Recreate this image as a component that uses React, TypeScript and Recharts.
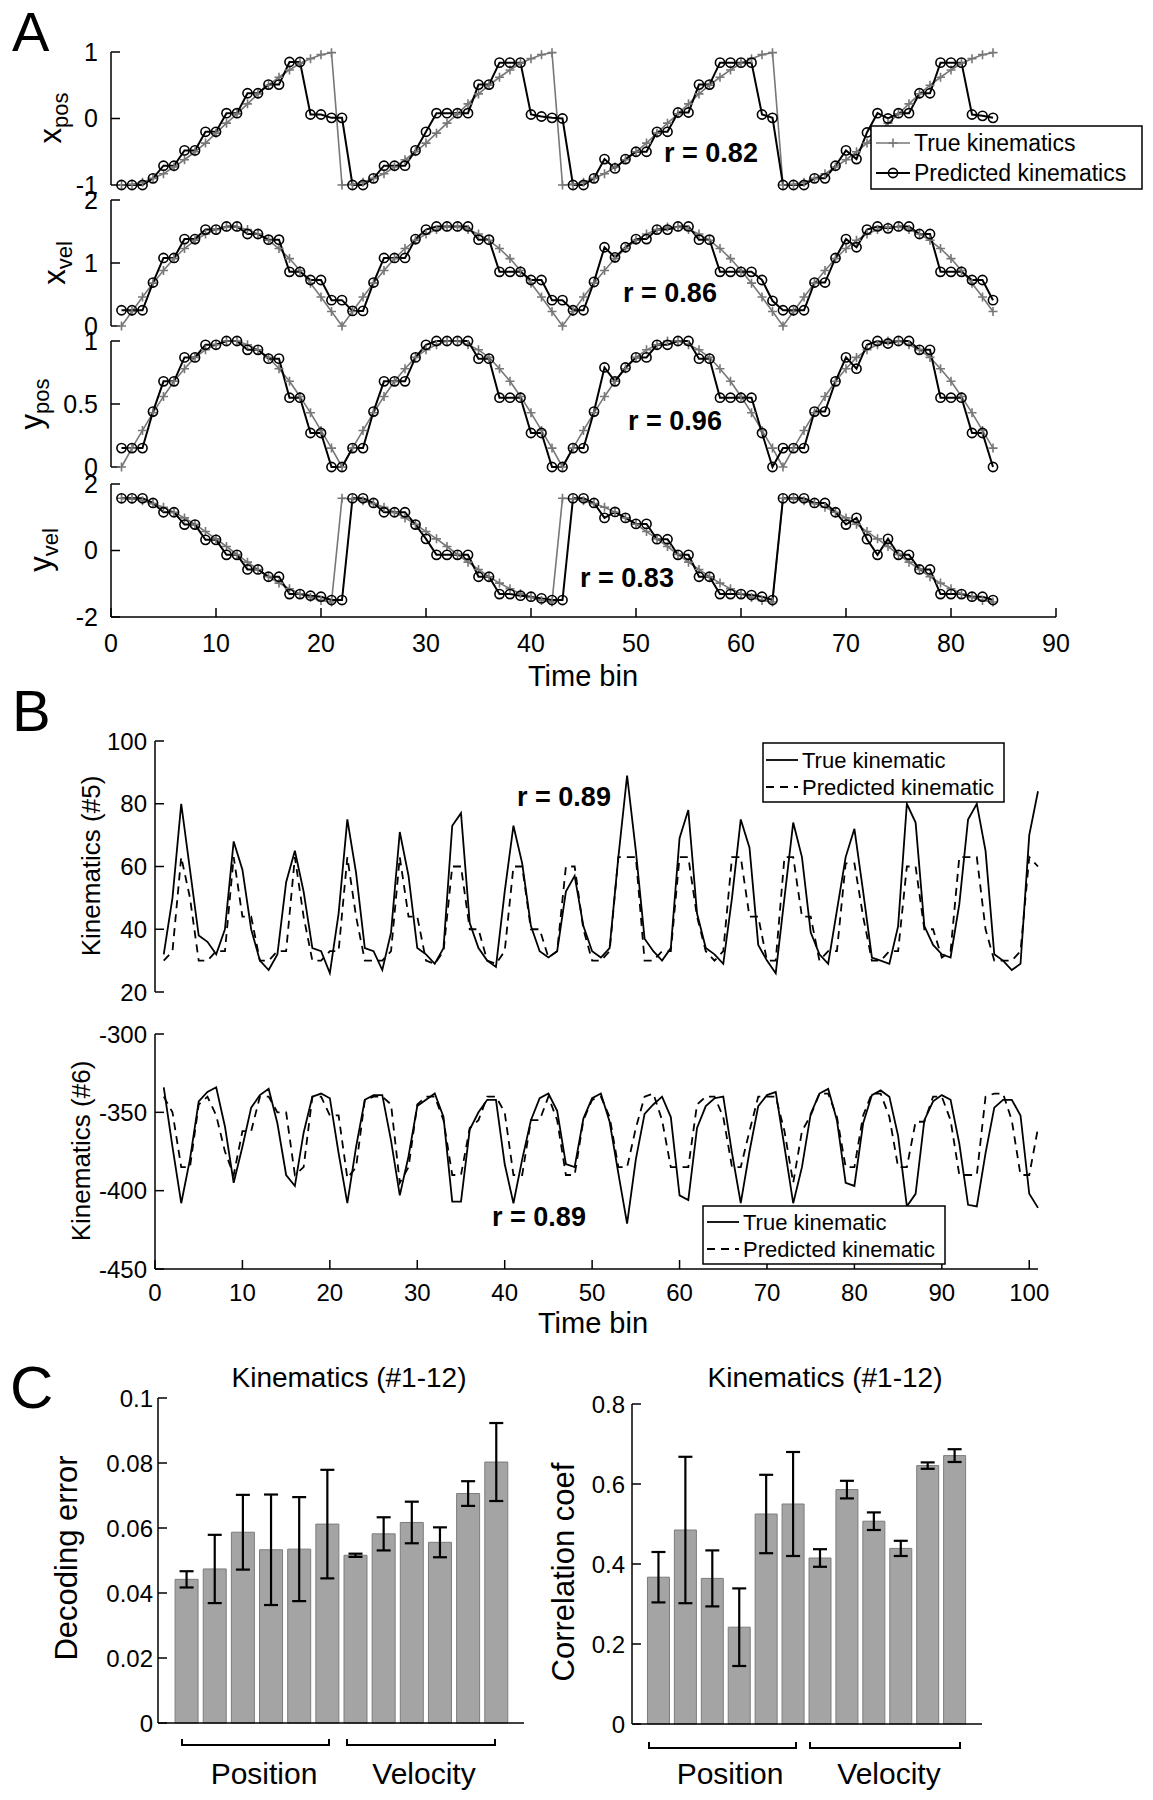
import React from "react";
import { LineChart, Line, XAxis, YAxis, BarChart, Bar, ErrorBar } from "recharts";

const FONT = '"Liberation Sans", Arial, Helvetica, sans-serif';

// ---------- Panel A: 84 time bins (4 reaches of 21 bins)
const A_X_TICKS = [0, 10, 20, 30, 40, 50, 60, 70, 80, 90];

const A_XPOS_TRUE = [
  -1, -0.99, -0.96, -0.9, -0.83, -0.73, -0.62, -0.5, -0.37, -0.22, -0.07, 0.07, 0.22, 0.37, 0.5, 0.62, 0.73, 0.83, 0.9, 0.96, 0.99,
  -1, -0.99, -0.96, -0.9, -0.83, -0.73, -0.62, -0.5, -0.37, -0.22, -0.07, 0.07, 0.22, 0.37, 0.5, 0.62, 0.73, 0.83, 0.9, 0.96, 0.99,
  -1, -0.99, -0.96, -0.9, -0.83, -0.73, -0.62, -0.5, -0.37, -0.22, -0.07, 0.07, 0.22, 0.37, 0.5, 0.62, 0.73, 0.83, 0.9, 0.96, 0.99,
  -1, -0.99, -0.96, -0.9, -0.83, -0.73, -0.62, -0.5, -0.37, -0.22, -0.07, 0.07, 0.22, 0.37, 0.5, 0.62, 0.73, 0.83, 0.9, 0.96, 0.99,
];
const A_XPOS_PRED = [
  -1, -1, -1, -0.9, -0.71, -0.71, -0.48, -0.48, -0.2, -0.2, 0.08, 0.08, 0.38, 0.38, 0.51, 0.51, 0.85, 0.85, 0.06, 0.06, 0.01, 0.01,
  -1, -1, -0.9, -0.71, -0.71, -0.71, -0.48, -0.2, 0.08, 0.08, 0.08, 0.08, 0.51, 0.51, 0.84, 0.84, 0.84, 0.06, 0.03, 0.01, 0,
  -1, -1, -0.9, -0.61, -0.75, -0.61, -0.5, -0.5, -0.2, -0.2, 0.09, 0.09, 0.51, 0.51, 0.84, 0.84, 0.84, 0.84, 0.06, 0.01,
  -1, -1, -1, -0.9, -0.9, -0.71, -0.48, -0.61, -0.21, 0.08, 0, 0.08, 0.08, 0.38, 0.38, 0.84, 0.84, 0.84, 0.06, 0.04, 0.01,
];

const A_XVEL_TRUE = [
  0, 0.23, 0.46, 0.68, 0.88, 1.07, 1.23, 1.36, 1.46, 1.53, 1.57, 1.57, 1.53, 1.46, 1.36, 1.23, 1.07, 0.88, 0.68, 0.46, 0.23,
  0, 0.23, 0.46, 0.68, 0.88, 1.07, 1.23, 1.36, 1.46, 1.53, 1.57, 1.57, 1.53, 1.46, 1.36, 1.23, 1.07, 0.88, 0.68, 0.46, 0.23,
  0, 0.23, 0.46, 0.68, 0.88, 1.07, 1.23, 1.36, 1.46, 1.53, 1.57, 1.57, 1.53, 1.46, 1.36, 1.23, 1.07, 0.88, 0.68, 0.46, 0.23,
  0, 0.23, 0.46, 0.68, 0.88, 1.07, 1.23, 1.36, 1.46, 1.53, 1.57, 1.57, 1.53, 1.46, 1.36, 1.23, 1.07, 0.88, 0.68, 0.46, 0.23,
];
const A_XVEL_PRED = [
  0.25, 0.25, 0.25, 0.69, 1.08, 1.08, 1.38, 1.38, 1.53, 1.53, 1.58, 1.58, 1.46, 1.46, 1.37, 1.37, 0.86, 0.86, 0.73, 0.73, 0.41, 0.41,
  0.24, 0.24, 0.69, 1.08, 1.08, 1.08, 1.38, 1.53, 1.58, 1.58, 1.58, 1.58, 1.37, 1.37, 0.86, 0.86, 0.86, 0.73, 0.73, 0.41, 0.41,
  0.25, 0.25, 0.7, 1.25, 1.09, 1.25, 1.38, 1.38, 1.53, 1.53, 1.58, 1.58, 1.37, 1.37, 0.86, 0.86, 0.86, 0.86, 0.73, 0.4,
  0.25, 0.25, 0.25, 0.69, 0.69, 1.08, 1.38, 1.25, 1.53, 1.58, 1.55, 1.58, 1.58, 1.46, 1.46, 0.86, 0.86, 0.86, 0.73, 0.73, 0.41,
];

const A_YPOS_TRUE = [
  0, 0.15, 0.29, 0.43, 0.56, 0.68, 0.78, 0.87, 0.93, 0.97, 1, 1, 0.97, 0.93, 0.87, 0.78, 0.68, 0.56, 0.43, 0.29, 0.15,
  0, 0.15, 0.29, 0.43, 0.56, 0.68, 0.78, 0.87, 0.93, 0.97, 1, 1, 0.97, 0.93, 0.87, 0.78, 0.68, 0.56, 0.43, 0.29, 0.15,
  0, 0.15, 0.29, 0.43, 0.56, 0.68, 0.78, 0.87, 0.93, 0.97, 1, 1, 0.97, 0.93, 0.87, 0.78, 0.68, 0.56, 0.43, 0.29, 0.15,
  0, 0.15, 0.29, 0.43, 0.56, 0.68, 0.78, 0.87, 0.93, 0.97, 1, 1, 0.97, 0.93, 0.87, 0.78, 0.68, 0.56, 0.43, 0.29, 0.15,
];
const A_YPOS_PRED = [
  0.15, 0.15, 0.15, 0.44, 0.68, 0.68, 0.87, 0.87, 0.97, 0.97, 1, 1, 0.93, 0.93, 0.86, 0.86, 0.55, 0.55, 0.27, 0.27, 0, 0,
  0.15, 0.15, 0.44, 0.68, 0.68, 0.68, 0.87, 0.97, 1, 1, 1, 1, 0.86, 0.86, 0.55, 0.55, 0.55, 0.27, 0.27, 0, 0,
  0.15, 0.15, 0.44, 0.79, 0.68, 0.79, 0.87, 0.87, 0.97, 0.97, 1, 1, 0.86, 0.86, 0.55, 0.55, 0.55, 0.55, 0.27, 0,
  0.15, 0.15, 0.15, 0.44, 0.44, 0.68, 0.87, 0.78, 0.97, 1, 0.98, 1, 1, 0.93, 0.93, 0.55, 0.55, 0.55, 0.27, 0.27, 0,
];

const A_YVEL_TRUE = [
  1.57, 1.55, 1.5, 1.41, 1.3, 1.15, 0.98, 0.79, 0.57, 0.35, 0.12, -0.12, -0.35, -0.57, -0.79, -0.98, -1.15, -1.3, -1.41, -1.5, -1.55,
  1.57, 1.55, 1.5, 1.41, 1.3, 1.15, 0.98, 0.79, 0.57, 0.35, 0.12, -0.12, -0.35, -0.57, -0.79, -0.98, -1.15, -1.3, -1.41, -1.5, -1.55,
  1.57, 1.55, 1.5, 1.41, 1.3, 1.15, 0.98, 0.79, 0.57, 0.35, 0.12, -0.12, -0.35, -0.57, -0.79, -0.98, -1.15, -1.3, -1.41, -1.5, -1.55,
  1.57, 1.55, 1.5, 1.41, 1.3, 1.15, 0.98, 0.79, 0.57, 0.35, 0.12, -0.12, -0.35, -0.57, -0.79, -0.98, -1.15, -1.3, -1.41, -1.5, -1.55,
];
const A_YVEL_PRED = [
  1.57, 1.57, 1.57, 1.43, 1.15, 1.15, 0.78, 0.78, 0.32, 0.32, -0.13, -0.13, -0.57, -0.57, -0.79, -0.79, -1.31, -1.31, -1.36, -1.39, -1.49, -1.49,
  1.57, 1.57, 1.43, 1.15, 1.15, 1.15, 0.78, 0.35, -0.13, -0.13, -0.13, -0.13, -0.79, -0.79, -1.31, -1.31, -1.36, -1.39, -1.44, -1.49, -1.49,
  1.57, 1.57, 1.43, 0.98, 1.16, 0.98, 0.8, 0.8, 0.34, 0.34, -0.13, -0.13, -0.79, -0.79, -1.31, -1.31, -1.31, -1.34, -1.39, -1.49,
  1.57, 1.57, 1.57, 1.43, 1.43, 1.15, 0.78, 0.98, 0.34, -0.13, 0.35, -0.13, -0.13, -0.57, -0.57, -1.31, -1.31, -1.31, -1.39, -1.39, -1.49,
];

// ---------- Panel B: 101 time bins
const B_X_TICKS = [0, 10, 20, 30, 40, 50, 60, 70, 80, 90, 100];

const B5_TRUE = [
  32, 50, 80, 59, 38, 36, 32, 40, 68, 59,
  40, 30, 27, 32, 55, 65, 52, 34, 33, 26,
  45, 75, 58, 34, 33, 27, 39, 71, 57, 34,
  32, 29, 34, 73, 77, 42, 34, 30, 28, 52,
  73, 61, 41, 33, 31, 33, 52, 57, 41, 33,
  31, 34, 63, 89, 65, 37, 33, 30, 34, 69,
  78, 45, 34, 32, 29, 50, 75, 66, 35, 30,
  26, 50, 74, 63, 39, 32, 29, 46, 63, 72,
  52, 31, 30, 29, 41, 80, 74, 41, 35, 32,
  31, 48, 75, 80, 65, 32, 30, 27, 29, 70, 84,
];
const B5_PRED = [
  30, 33, 63, 50, 30, 30, 33, 33, 63, 44,
  44, 30, 30, 33, 33, 63, 44, 30, 30, 33,
  33, 63, 44, 30, 30, 30, 33, 63, 44, 44,
  30, 29, 33, 60, 60, 40, 40, 30, 29, 33,
  60, 60, 40, 40, 31, 33, 60, 60, 40, 30,
  30, 33, 63, 63, 63, 30, 30, 33, 33, 63,
  63, 44, 33, 30, 33, 63, 63, 44, 44, 30,
  30, 63, 63, 44, 44, 30, 33, 33, 61, 61,
  44, 30, 30, 33, 33, 60, 60, 40, 40, 31,
  33, 63, 63, 63, 40, 30, 30, 30, 33, 63, 60,
];

const B6_TRUE = [
  -334, -372, -408, -380, -343, -337, -334, -359, -395, -372,
  -347, -339, -335, -357, -390, -397, -363, -340, -338, -341,
  -376, -408, -372, -342, -339, -339, -368, -403, -378, -346,
  -342, -338, -353, -407, -407, -361, -350, -342, -342, -383,
  -408, -380, -355, -341, -338, -349, -383, -385, -354, -341,
  -338, -356, -389, -421, -380, -351, -345, -340, -353, -403,
  -406, -360, -346, -341, -340, -376, -408, -375, -346, -339,
  -337, -372, -408, -385, -351, -338, -335, -355, -395, -397,
  -357, -339, -336, -340, -365, -410, -402, -355, -343, -339,
  -342, -370, -409, -410, -376, -347, -342, -342, -352, -402, -411,
];
const B6_PRED = [
  -340, -350, -385, -385, -345, -340, -352, -375, -390, -362,
  -362, -340, -340, -350, -350, -390, -385, -340, -340, -352,
  -352, -392, -385, -342, -340, -340, -345, -395, -385, -345,
  -340, -340, -355, -390, -390, -360, -355, -340, -340, -350,
  -390, -390, -355, -355, -340, -355, -390, -390, -355, -342,
  -340, -353, -385, -385, -360, -340, -338, -355, -385, -385,
  -385, -345, -340, -340, -353, -385, -385, -362, -340, -340,
  -340, -362, -395, -362, -352, -338, -338, -353, -385, -385,
  -352, -338, -338, -353, -385, -385, -356, -356, -340, -340,
  -355, -390, -390, -390, -340, -338, -338, -355, -390, -390, -360,
];

// ---------- Panel C: 12 kinematic variables
const C_DEC_ERR = [0.0442, 0.0474, 0.0587, 0.0533, 0.0535, 0.0612, 0.0516, 0.0582, 0.0617, 0.0556, 0.0706, 0.0803];
const C_DEC_SEM = [0.0025, 0.0105, 0.0115, 0.017, 0.016, 0.0167, 0.0005, 0.0051, 0.0064, 0.0046, 0.0038, 0.012];
const C_CORR = [0.367, 0.485, 0.364, 0.242, 0.525, 0.55, 0.415, 0.586, 0.507, 0.439, 0.646, 0.671];
const C_CORR_SEM = [0.063, 0.183, 0.07, 0.097, 0.098, 0.13, 0.022, 0.022, 0.022, 0.019, 0.008, 0.016];
const C_DEC_TICKS = [0, 0.02, 0.04, 0.06, 0.08, 0.1];
const C_CORR_TICKS = [0, 0.2, 0.4, 0.6, 0.8];

const toRows = (t: number[], p: number[]) => t.map((v, i) => ({ x: i + 1, t: v, p: p[i] }));
const toBars = (v: number[], e: number[]) => v.map((val, i) => ({ i: i + 1, v: val, e: e[i] }));

const YW = 90;
const MT = 20; // room above the frame for the top tick label
const MR = 30; // room right of the frame for the last tick label
const MB = 20;
const AXIS = { stroke: "#000", strokeWidth: 1.5 };
const blank = () => "";
const tickFont = (size: number) => ({ fill: "#000", fontSize: size, fontFamily: FONT });

function PlusDot(props: any) {
  const { cx, cy } = props;
  if (cx == null || cy == null) return <g />;
  return <path d={`M${cx - 4.5},${cy}H${cx + 4.5}M${cx},${cy - 4.5}V${cy + 4.5}`} stroke="#777" strokeWidth={1.6} />;
}

function CircleDot(props: any) {
  const { cx, cy } = props;
  if (cx == null || cy == null) return <g />;
  return <circle cx={cx} cy={cy} r={4.6} fill="none" stroke="#000" strokeWidth={1.6} />;
}

type PanelProps = {
  rows: any[];
  left: number;
  top: number;
  w: number;
  h: number;
  xDomain: [number, number];
  xTicks: number[];
  yDomain: [number, number];
  yTicks: number[];
  xLabels?: boolean;
  xTickMargin?: number;
  yTickMargin: number;
  fontSize?: number;
  children: React.ReactNode;
};

function LinePanel(p: PanelProps) {
  const xh = p.xLabels ? 50 : 0;
  const tf = tickFont(p.fontSize ?? 25);
  return (
    <div style={{ position: "absolute", left: p.left - YW, top: p.top - MT }}>
      <LineChart width={YW + p.w + MR} height={MT + p.h + xh + MB} data={p.rows} margin={{ top: MT, right: MR, bottom: MB, left: 0 }}>
        <XAxis dataKey="x" type="number" domain={p.xDomain} ticks={p.xTicks} interval={0} height={xh}
          tickSize={-9} tickMargin={p.xTickMargin ?? 26} axisLine={AXIS} tickLine={AXIS} tick={tf}
          tickFormatter={p.xLabels ? undefined : blank} />
        <XAxis xAxisId="top" orientation="top" dataKey="x" type="number" domain={p.xDomain} ticks={p.xTicks} interval={0}
          height={0} tickSize={-9} axisLine={AXIS} tickLine={AXIS} tick={tf} tickFormatter={blank} />
        <YAxis type="number" domain={p.yDomain} ticks={p.yTicks} interval={0} width={YW} tickSize={-9}
          tickMargin={p.yTickMargin} axisLine={AXIS} tickLine={AXIS} tick={tf} />
        <YAxis yAxisId="right" orientation="right" type="number" domain={p.yDomain} ticks={p.yTicks} interval={0} width={0}
          tickSize={-9} axisLine={AXIS} tickLine={AXIS} tick={tf} tickFormatter={blank} />
        {p.children}
      </LineChart>
    </div>
  );
}

function trueLineA() {
  return <Line key="t" dataKey="t" stroke="#777" strokeWidth={1.6} dot={<PlusDot />} activeDot={false} isAnimationActive={false} />;
}
function predLineA() {
  return <Line key="p" dataKey="p" stroke="#000" strokeWidth={2} dot={<CircleDot />} activeDot={false} isAnimationActive={false} />;
}
function trueLineB() {
  return <Line key="t" dataKey="t" stroke="#000" strokeWidth={1.8} dot={false} activeDot={false} isAnimationActive={false} />;
}
function predLineB() {
  return <Line key="p" dataKey="p" stroke="#000" strokeWidth={1.8} strokeDasharray="8 6" dot={false} activeDot={false} isAnimationActive={false} />;
}

type BarProps = {
  rows: any[]; left: number; top: number; w: number; h: number;
  yDomain: [number, number]; yTicks: number[]; barSize: number; tickMargin: number;
};

function BarPanel(p: BarProps) {
  const tf = tickFont(24);
  return (
    <div style={{ position: "absolute", left: p.left - YW, top: p.top - MT }}>
      <BarChart width={YW + p.w + MR} height={MT + p.h + 2 + MB} data={p.rows} margin={{ top: MT, right: MR, bottom: MB, left: 0 }}>
        <XAxis dataKey="i" type="number" domain={[0, 13]} height={2} axisLine={AXIS} tickLine={false} tick={false} />
        <XAxis xAxisId="top" orientation="top" dataKey="i" type="number" domain={[0, 13]} height={0} axisLine={AXIS} tickLine={false} tick={false} />
        <YAxis type="number" domain={p.yDomain} ticks={p.yTicks} interval={0} width={YW} tickSize={-9} tickMargin={p.tickMargin}
          axisLine={AXIS} tickLine={AXIS} tick={tf} />
        <YAxis yAxisId="right" orientation="right" type="number" domain={p.yDomain} ticks={p.yTicks} interval={0} width={0}
          tickSize={-9} axisLine={AXIS} tickLine={AXIS} tick={tf} tickFormatter={blank} />
        <Bar dataKey="v" barSize={p.barSize} fill="#a4a4a4" stroke="#7c7c7c" strokeWidth={1} isAnimationActive={false}>
          <ErrorBar dataKey="e" width={7} strokeWidth={2.2} stroke="#000" direction="y" />
        </Bar>
      </BarChart>
    </div>
  );
}

function SubLabel({ x, cy, main, sub }: { x: number; cy: number; main: string; sub: string }) {
  return (
    <text transform={`translate(${x},${cy}) rotate(-90)`} textAnchor="middle" fontSize={31}>
      {main}
      <tspan fontSize={22} dy={7}>{sub}</tspan>
    </text>
  );
}

function RotLabel({ x, cy, text, size }: { x: number; cy: number; text: string; size: number }) {
  return (
    <text transform={`translate(${x},${cy}) rotate(-90)`} textAnchor="middle" fontSize={size}>
      {text}
    </text>
  );
}

function RLabel({ x, y, text }: { x: number; y: number; text: string }) {
  return (
    <text x={x} y={y} textAnchor="middle" dominantBaseline="central" fontSize={27} fontWeight="bold">
      {text}
    </text>
  );
}

function Bracket({ x1, x2, y }: { x1: number; x2: number; y: number }) {
  return <path d={`M${x1},${y - 6}V${y}H${x2}V${y - 6}`} fill="none" stroke="#000" strokeWidth={2} />;
}

const A_ROWS = [
  { top: 52, h: 133 },
  { top: 200, h: 126 },
  { top: 341, h: 126 },
  { top: 484, h: 133 },
];
const A_LEFT = 111;
const A_W = 945;
const B_LEFT = 155;
const B_W = 883;

export default function App() {
  return (
    <div style={{ position: "absolute", left: 0, top: 0, width: 1153, height: 1800, background: "#fff", fontFamily: FONT, overflow: "hidden" }}>
      {/* Panel A */}
      <LinePanel rows={toRows(A_XPOS_TRUE, A_XPOS_PRED)} left={A_LEFT} top={A_ROWS[0].top} w={A_W} h={A_ROWS[0].h}
        xDomain={[0, 90]} xTicks={A_X_TICKS} yDomain={[-1, 1]} yTicks={[-1, 0, 1]} yTickMargin={22}>
        {[trueLineA(), predLineA()]}
      </LinePanel>
      <LinePanel rows={toRows(A_XVEL_TRUE, A_XVEL_PRED)} left={A_LEFT} top={A_ROWS[1].top} w={A_W} h={A_ROWS[1].h}
        xDomain={[0, 90]} xTicks={A_X_TICKS} yDomain={[0, 2]} yTicks={[0, 1, 2]} yTickMargin={22}>
        {[trueLineA(), predLineA()]}
      </LinePanel>
      <LinePanel rows={toRows(A_YPOS_TRUE, A_YPOS_PRED)} left={A_LEFT} top={A_ROWS[2].top} w={A_W} h={A_ROWS[2].h}
        xDomain={[0, 90]} xTicks={A_X_TICKS} yDomain={[0, 1]} yTicks={[0, 0.5, 1]} yTickMargin={22}>
        {[trueLineA(), predLineA()]}
      </LinePanel>
      <LinePanel rows={toRows(A_YVEL_TRUE, A_YVEL_PRED)} left={A_LEFT} top={A_ROWS[3].top} w={A_W} h={A_ROWS[3].h}
        xDomain={[0, 90]} xTicks={A_X_TICKS} yDomain={[-2, 2]} yTicks={[-2, 0, 2]} yTickMargin={22} xLabels xTickMargin={26}>
        {[trueLineA(), predLineA()]}
      </LinePanel>

      {/* Panel B */}
      <LinePanel rows={toRows(B5_TRUE, B5_PRED)} left={B_LEFT} top={741} w={B_W} h={251} fontSize={24}
        xDomain={[0, 101]} xTicks={B_X_TICKS} yDomain={[20, 100]} yTicks={[20, 40, 60, 80, 100]} yTickMargin={17}>
        {[trueLineB(), predLineB()]}
      </LinePanel>
      <LinePanel rows={toRows(B6_TRUE, B6_PRED)} left={B_LEFT} top={1034} w={B_W} h={235} fontSize={24}
        xDomain={[0, 101]} xTicks={B_X_TICKS} yDomain={[-450, -300]} yTicks={[-450, -400, -350, -300]} yTickMargin={17}
        xLabels xTickMargin={24}>
        {[trueLineB(), predLineB()]}
      </LinePanel>

      {/* Panel C */}
      <BarPanel rows={toBars(C_DEC_ERR, C_DEC_SEM)} left={158} top={1398} w={366} h={325} yDomain={[0, 0.1]} yTicks={C_DEC_TICKS}
        barSize={23} tickMargin={14} />
      <BarPanel rows={toBars(C_CORR, C_CORR_SEM)} left={632} top={1404} w={350} h={320} yDomain={[0, 0.8]} yTicks={C_CORR_TICKS}
        barSize={22} tickMargin={16} />

      {/* annotations */}
      <svg width={1153} height={1800} style={{ position: "absolute", left: 0, top: 0, pointerEvents: "none" }} fontFamily={FONT}>
        <text x={12} y={51} fontSize={56}>A</text>
        <text x={12} y={731} fontSize={58}>B</text>
        <text x={10} y={1408} fontSize={60}>C</text>

        <SubLabel x={61} cy={118} main="x" sub="pos" />
        <SubLabel x={65} cy={263} main="x" sub="vel" />
        <SubLabel x={42} cy={404} main="y" sub="pos" />
        <SubLabel x={51} cy={550} main="y" sub="vel" />
        <text x={583} y={676} textAnchor="middle" dominantBaseline="central" fontSize={29}>Time bin</text>

        <RLabel x={711} y={153} text="r = 0.82" />
        <RLabel x={670} y={293} text="r = 0.86" />
        <RLabel x={675} y={421} text="r = 0.96" />
        <RLabel x={627} y={578} text="r = 0.83" />

        {/* legend A */}
        <rect x={871} y={126} width={271} height={63} fill="#fff" stroke="#000" strokeWidth={1.5} />
        <line x1={876} x2={910} y1={143} y2={143} stroke="#777" strokeWidth={1.6} />
        <PlusDot cx={893} cy={143} />
        <text x={914} y={143} dominantBaseline="central" fontSize={23}>True kinematics</text>
        <line x1={876} x2={910} y1={173} y2={173} stroke="#000" strokeWidth={2} />
        <CircleDot cx={893} cy={173} />
        <text x={914} y={173} dominantBaseline="central" fontSize={23}>Predicted kinematics</text>

        {/* panel B labels */}
        <RotLabel x={100} cy={866} text="Kinematics (#5)" size={26} />
        <RotLabel x={90} cy={1151} text="Kinematics (#6)" size={26} />
        <text x={593} y={1323} textAnchor="middle" dominantBaseline="central" fontSize={29}>Time bin</text>
        <RLabel x={564} y={797} text="r = 0.89" />
        <RLabel x={539} y={1217} text="r = 0.89" />

        <rect x={763} y={743} width={241} height={59} fill="#fff" stroke="#000" strokeWidth={1.5} />
        <line x1={766} x2={798} y1={760} y2={760} stroke="#000" strokeWidth={1.8} />
        <text x={802} y={760} dominantBaseline="central" fontSize={22}>True kinematic</text>
        <line x1={766} x2={798} y1={787} y2={787} stroke="#000" strokeWidth={1.8} strokeDasharray="8 6" />
        <text x={802} y={787} dominantBaseline="central" fontSize={22}>Predicted kinematic</text>

        <rect x={703} y={1206} width={242} height={58} fill="#fff" stroke="#000" strokeWidth={1.5} />
        <line x1={707} x2={739} y1={1222} y2={1222} stroke="#000" strokeWidth={1.8} />
        <text x={743} y={1222} dominantBaseline="central" fontSize={22}>True kinematic</text>
        <line x1={707} x2={739} y1={1249} y2={1249} stroke="#000" strokeWidth={1.8} strokeDasharray="8 6" />
        <text x={743} y={1249} dominantBaseline="central" fontSize={22}>Predicted kinematic</text>

        {/* panel C labels */}
        <text x={349} y={1377} textAnchor="middle" dominantBaseline="central" fontSize={28}>Kinematics (#1-12)</text>
        <text x={825} y={1377} textAnchor="middle" dominantBaseline="central" fontSize={28}>Kinematics (#1-12)</text>
        <RotLabel x={77} cy={1558} text="Decoding error" size={31} />
        <RotLabel x={574} cy={1572} text="Correlation coef" size={31} />
        <Bracket x1={182} x2={329} y={1745} />
        <Bracket x1={347} x2={495} y={1745} />
        <Bracket x1={649} x2={796} y={1748} />
        <Bracket x1={810} x2={960} y={1748} />
        <text x={264} y={1773} textAnchor="middle" dominantBaseline="central" fontSize={30}>Position</text>
        <text x={424} y={1773} textAnchor="middle" dominantBaseline="central" fontSize={30}>Velocity</text>
        <text x={730} y={1773} textAnchor="middle" dominantBaseline="central" fontSize={30}>Position</text>
        <text x={889} y={1773} textAnchor="middle" dominantBaseline="central" fontSize={30}>Velocity</text>
      </svg>
    </div>
  );
}
